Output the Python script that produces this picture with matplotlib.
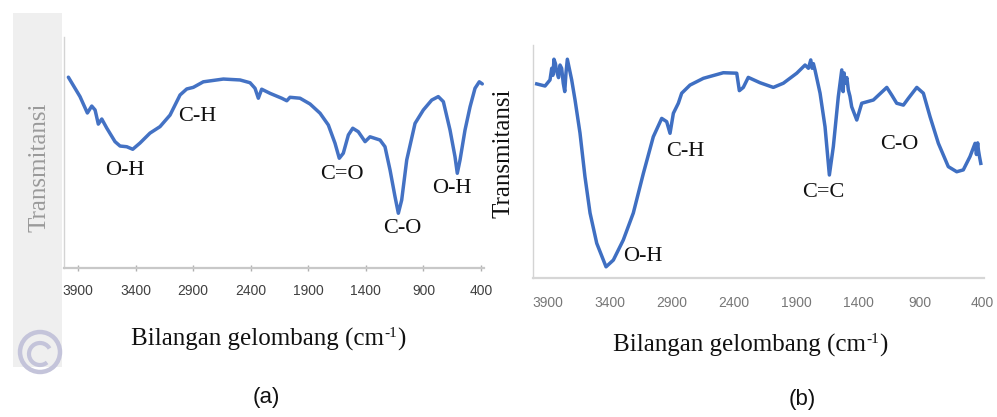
import matplotlib
matplotlib.use("Agg")
import matplotlib.pyplot as plt
from matplotlib.patches import Rectangle, Circle, Arc

# ---------------- data ----------------
tick_values = [3900, 3400, 2900, 2400, 1900, 1400, 900, 400]
tick_labels = ["3900", "3400", "2900", "2400", "1900", "1400", "900", "400"]

wn_a = [3984, 3883, 3819, 3781, 3752, 3724, 3694, 3651, 3579, 3535, 3477, 3425,
        3362, 3275, 3188, 3101, 3014, 2956, 2899, 2812, 2638, 2493, 2406, 2363,
        2334, 2305, 2232, 2131, 2087, 2059, 1972, 1885, 1798, 1726, 1668, 1631,
        1596, 1552, 1514, 1466, 1407, 1364, 1277, 1234, 1190, 1147, 1118, 1089,
        1045, 973, 901, 828, 771, 727, 669, 626, 606, 582, 539, 495, 452, 415, 389]
tr_a = [82.6, 74.2, 67.1, 70.1, 68.4, 62.3, 64.5, 60.6, 54.7, 52.8, 52.5, 51.4,
        54.1, 58.4, 61.2, 66.2, 74.9, 77.5, 78.2, 80.6, 81.8, 81.4, 80.2, 77.8,
        73.5, 77.4, 75.6, 73.5, 72.4, 73.9, 73.5, 71.0, 67.0, 61.9, 54.0, 47.5,
        49.7, 57.6, 60.5, 59.0, 54.7, 56.8, 55.4, 52.5, 42.4, 30.9, 23.7, 29.4,
        46.8, 62.6, 68.4, 72.7, 74.2, 72.0, 59.7, 48.2, 41.0, 46.8, 59.7, 69.8,
        77.8, 80.6, 79.7]

wn_b = [3991, 3924, 3884, 3870, 3860, 3852, 3840, 3830, 3815, 3803, 3790, 3777,
        3765, 3755, 3744, 3709, 3682, 3642, 3602, 3561, 3507, 3432, 3373, 3293,
        3212, 3131, 3051, 2983, 2943, 2916, 2889, 2849, 2822, 2755, 2647, 2486,
        2378, 2357, 2325, 2285, 2190, 2083, 2002, 1894, 1827, 1800, 1781, 1770,
        1760, 1747, 1706, 1666, 1631, 1599, 1559, 1531, 1520, 1512, 1505, 1490,
        1478, 1465, 1451, 1410, 1370, 1276, 1168, 1128, 1088, 1034, 994, 926,
        873, 819, 752, 672, 604, 551, 497, 456, 445, 435, 429, 420, 410]
tr_b = [83.3, 82.4, 85.0, 90.0, 87.0, 93.9, 92.0, 88.6, 86.0, 91.4, 90.0, 83.6,
        80.0, 88.0, 93.9, 85.0, 76.4, 62.2, 43.5, 27.9, 14.9, 4.8, 7.7, 16.3,
        27.9, 44.9, 60.6, 68.5, 67.1, 62.1, 70.7, 75.0, 79.3, 82.8, 85.7, 88.1,
        87.9, 80.4, 81.8, 86.1, 83.8, 81.8, 83.6, 87.9, 91.4, 90.0, 93.6, 90.0,
        92.0, 89.3, 79.3, 64.9, 44.2, 56.4, 77.8, 89.3, 80.0, 88.0, 83.6, 86.0,
        80.7, 78.0, 73.5, 67.8, 75.0, 76.4, 81.8, 78.5, 75.0, 74.2, 77.1, 81.8,
        79.3, 69.2, 57.8, 47.8, 45.6, 46.4, 52.1, 57.8, 53.0, 58.0, 54.9, 52.0, 49.2]

labels_a = ["O-H", "C-H", "C=O", "C-O", "O-H"]
label_pos_a = [(3492, 42.0), (2866, 65.4), (1607, 40.3), (1086, 17.3), (652, 34.2)]
labels_b = ["C-H", "O-H", "C=C", "C-O"]
label_pos_b = [(2795, 54.5), (3134, 9.4), (1682, 36.5), (1069, 57.5)]

xlabel_parts = ["Bilangan gelombang (cm", "-1", ")"]
ylabel = "Transmitansi"

# ---------------- figure ----------------
W, H = 997, 417
fig = plt.figure(figsize=(W / 100, H / 100), dpi=100)

def px_axes(x0, y0, x1, y1, **kw):
    return fig.add_axes([x0 / W, (H - y1) / H, (x1 - x0) / W, (y1 - y0) / H], **kw)

# background decorations
bg = px_axes(0, 0, W, H)
bg.set_xlim(0, W)
bg.set_ylim(H, 0)
bg.axis("off")
bg.add_patch(Rectangle((13, 13), 49, 354, facecolor="#efefef", edgecolor="none"))
clip = Rectangle((13, 13), 49, 354, transform=bg.transData)
ring = Circle((40, 352), 20, facecolor="none", edgecolor="#c4c4da", lw=3.2)
ring.set_clip_path(clip)
bg.add_patch(ring)
bg.add_patch(Arc((40, 354), 22, 22, theta1=50, theta2=330, edgecolor="#c4c4da", lw=3))

line_kw = dict(color="#4472C4", lw=2.5, solid_joinstyle="round", solid_capstyle="round")

def style(ax, xlim, spine_col, tick_col, label_col, tick_len):
    ax.set_xlim(*xlim)
    ax.set_ylim(0, 100)
    ax.patch.set_alpha(0)
    for s in ("top", "right"):
        ax.spines[s].set_visible(False)
    ax.spines["left"].set_color("#d4d4d4")
    ax.spines["left"].set_linewidth(1.0)
    ax.spines["bottom"].set_color(spine_col)
    ax.spines["bottom"].set_linewidth(1.6)
    ax.set_yticks([])
    ax.set_xticks(tick_values)
    ax.set_xticklabels(tick_labels, fontsize=10, family="Liberation Sans", color=label_col)
    ax.tick_params(axis="x", direction="inout", length=tick_len, width=1, color=tick_col, pad=9)

# panel (a)
ax_a = px_axes(64, 37, 484, 268)
ax_a.plot(wn_a, tr_a, **line_kw)
style(ax_a, (4022, 374), "#c8c8c8", "#b0b0b0", "#404040", 5)
for t, (x, y) in zip(labels_a, label_pos_a):
    ax_a.text(x, y, t, fontsize=16, family="Liberation Serif", ha="center", va="center", color="#111111")

# panel (b)
ax_b = px_axes(533, 45, 984, 278)
ax_b.plot(wn_b, tr_b, color="#3f6fc2", lw=2.5, solid_joinstyle="round")
style(ax_b, (4021, 384), "#d6d6d6", "#d6d6d6", "#777777", 0)
ax_b.tick_params(axis="x", pad=13)
for t, (x, y) in zip(labels_b, label_pos_b):
    ax_b.text(x, y, t, fontsize=16, family="Liberation Serif", ha="center", va="center", color="#111111")

# axis titles (figure pixel positions)
def ftext(x, y, s, **kw):
    return fig.text(x / W, (H - y) / H, s, **kw)

ftext(40, 167, ylabel, rotation=90, fontsize=18, family="Liberation Serif",
      color="#9a9a9a", ha="center", va="center")
ftext(503, 153, ylabel, rotation=90, fontsize=18, family="Liberation Serif",
      color="#111111", ha="center", va="center")

renderer = fig.canvas.get_renderer()

def sup_label(xc, ybase):
    sizes = [18, 11, 18]
    raises = [0, 9, 0]
    widths = []
    for s, fs in zip(xlabel_parts, sizes):
        t = fig.text(0, 0, s, fontsize=fs, family="Liberation Serif")
        widths.append(t.get_window_extent(renderer).width)
        t.remove()
    x = xc - sum(widths) / 2
    for s, fs, r, w in zip(xlabel_parts, sizes, raises, widths):
        ftext(x, ybase - r, s, fontsize=fs, family="Liberation Serif", color="#111111",
              ha="left", va="baseline")
        x += w

sup_label(268, 346)
sup_label(750, 352)

ftext(266, 398, "(a)", fontsize=16, family="Liberation Sans", color="#111111",
      ha="center", va="center")
ftext(802, 400, "(b)", fontsize=16, family="Liberation Sans", color="#111111",
      ha="center", va="center")

fig.savefig("out.png", dpi=100)
